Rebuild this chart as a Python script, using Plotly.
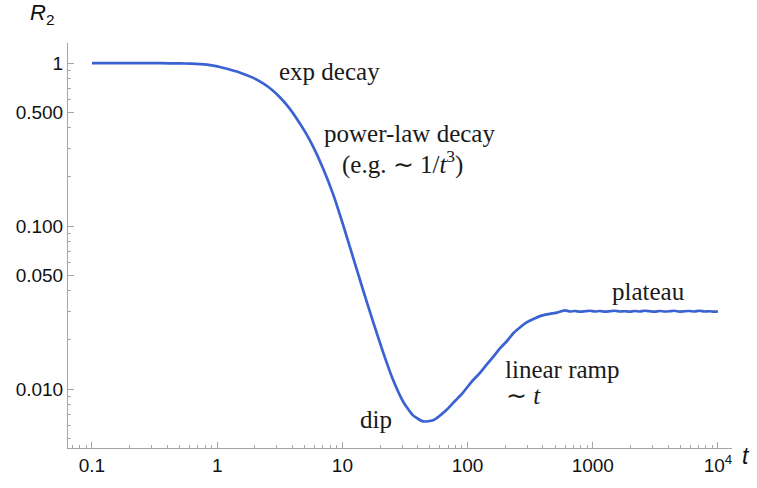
import plotly.graph_objects as go

# Sampled curve: time t and return probability R2
t_vals = [0.1, 0.243, 0.35, 0.507, 0.62, 0.732, 0.83, 0.929, 1.05, 1.20,
          1.526, 1.902, 2.328, 2.748, 3.183, 3.755, 4.349, 5.04, 5.84, 7.015,
          8.43, 10.13, 12.17, 14.63, 17.58, 21.13, 25.39, 30.51, 36.67, 44.06,
          52.96, 68.48, 80.0, 91.9, 108, 125.6, 142, 159.5, 182, 206.3, 232,
          261.9, 296, 332.6, 390, 454.6, 520, 560, 600, 656.5, 720, 790, 870,
          950, 1040, 1140, 1250, 1370, 1500, 1640, 1800, 1970, 2160, 2370,
          2600, 2850, 3120, 3420, 3750, 4100, 4500, 4930, 5400, 5920, 6490,
          7110, 7790, 8540, 9300, 10000]
r_vals = [1.0, 0.999, 0.998, 0.995, 0.992, 0.986, 0.977, 0.964, 0.946, 0.922,
          0.873, 0.817, 0.750, 0.684, 0.615, 0.531, 0.452, 0.378, 0.307,
          0.2256, 0.157, 0.1018, 0.0643, 0.0405, 0.0259, 0.01683, 0.01138,
          0.00838, 0.00689, 0.00633, 0.00642, 0.00749, 0.0085, 0.0095, 0.0111,
          0.01256, 0.0141, 0.0157, 0.0178, 0.0197, 0.0220, 0.02385, 0.0256,
          0.0268, 0.0282, 0.0289, 0.0294, 0.0300, 0.0304, 0.0299, 0.0301,
          0.0298, 0.0300, 0.0302, 0.0299, 0.0301, 0.0298, 0.0300, 0.0302,
          0.0299, 0.0300, 0.0298, 0.0301, 0.0299, 0.0302, 0.0300, 0.0298,
          0.0301, 0.0299, 0.0300, 0.0302, 0.0298, 0.0300, 0.0301, 0.0299,
          0.0302, 0.0299, 0.0300, 0.0298, 0.0299]

x_major = [0.1, 1, 10, 100, 1000, 10000]
x_major_text = ["0.1", "1", "10", "100", "1000", "10<sup>4</sup>"]
y_major = [1, 0.5, 0.1, 0.05, 0.01, 0.005]
y_major_text = ["1", "0.500", "0.100", "0.050", "0.010", ""]

x_minor = [m * 10.0 ** e for e in range(-2, 4) for m in range(2, 10)]
x_minor = [v for v in x_minor if 0.065 < v < 12500]
y_minor = [m * 10.0 ** e for e in range(-3, 0) for m in range(2, 10)]
y_minor = [v for v in y_minor if 0.0044 < v < 1.3]

AX = "#a6a6a6"
SANS = "Liberation Sans, Arial, sans-serif"
SERIF = "Liberation Serif, Times New Roman, serif"

fig = go.Figure()
fig.add_trace(go.Scatter(
    x=t_vals, y=r_vals, mode="lines",
    line=dict(color="#3a62d2", width=2.7, shape="spline", smoothing=0.5),
    hoverinfo="skip", showlegend=False,
))

fig.update_xaxes(
    type="log", range=[-1.1915, 4.112],
    showgrid=False, zeroline=False,
    showline=True, linecolor=AX, linewidth=1,
    tickmode="array", tickvals=x_major, ticktext=x_major_text,
    ticks="inside", ticklen=6, tickcolor=AX, tickwidth=1,
    tickfont=dict(family=SANS, size=19, color="#111"),
    minor=dict(tickmode="array", tickvals=x_minor, ticks="inside",
               ticklen=3, tickcolor=AX, tickwidth=1, showgrid=False),
)
fig.update_yaxes(
    type="log", range=[-2.362, 0.123],
    showgrid=False, zeroline=False,
    showline=True, linecolor=AX, linewidth=1,
    tickmode="array", tickvals=y_major, ticktext=y_major_text,
    ticks="inside", ticklen=6, tickcolor=AX, tickwidth=1,
    tickfont=dict(family=SANS, size=19, color="#111"),
    minor=dict(tickmode="array", tickvals=y_minor, ticks="inside",
               ticklen=3, tickcolor=AX, tickwidth=1, showgrid=False),
)

notes = [
    ("exp decay", 0.894, -0.0527, "center"),
    ("power-law decay", 1.540, -0.4345, "center"),
    ("(e.g. ∼ 1/<i>t</i><sup>3</sup>)", 1.477, -0.61, "center"),
    ("dip", 1.269, -2.19, "center"),
    ("linear ramp", 2.761, -1.883, "center"),
    ("∼ <i>t</i>", 2.298, -2.041, "left"),
    ("plateau", 3.448, -1.404, "center"),
]
for txt, xv, yv, anchor in notes:
    fig.add_annotation(x=xv, y=yv, xref="x", yref="y", text=txt,
                       showarrow=False, xanchor=anchor, yanchor="middle",
                       borderpad=0,
                       font=dict(family=SERIF, size=25, color="#1a1a1a"))

fig.add_annotation(x=-0.06, y=1.072, xref="paper", yref="paper",
                   text="<i>R</i><sub>2</sub>", showarrow=False,
                   xanchor="left", yanchor="middle",
                   font=dict(family=SANS, size=22, color="#111"))
fig.add_annotation(x=1.021, y=-0.02, xref="paper", yref="paper",
                   text="<i>t</i>", showarrow=False,
                   xanchor="center", yanchor="middle",
                   font=dict(family=SANS, size=23, color="#111"))

fig.update_layout(
    width=757, height=488,
    margin=dict(l=68, r=25, t=43, b=35),
    paper_bgcolor="white", plot_bgcolor="white",
)

fig.write_html("out.html")
